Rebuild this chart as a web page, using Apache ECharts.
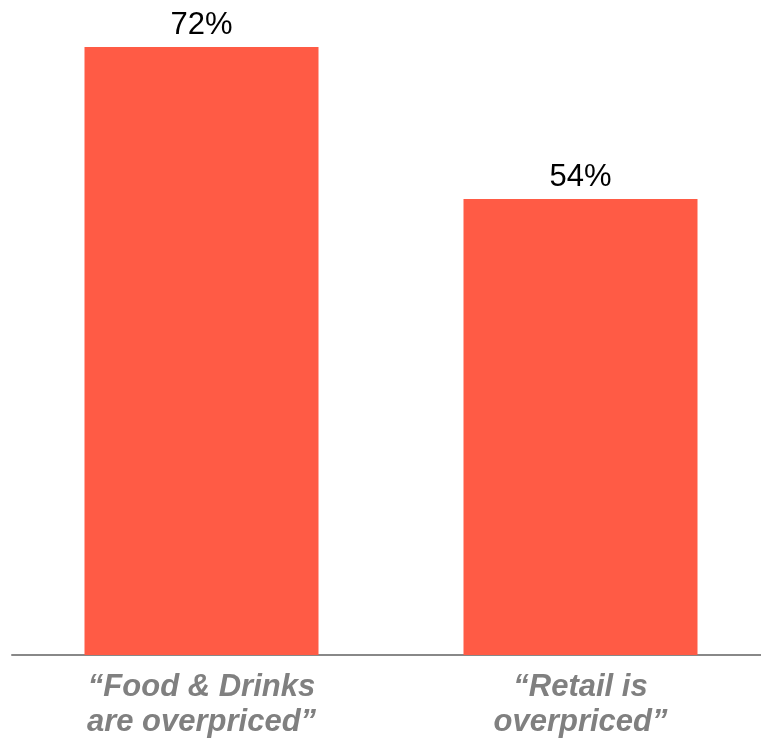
<!DOCTYPE html>
<html>
<head>
<meta charset="utf-8">
<script src="https://cdn.jsdelivr.net/npm/echarts@6/dist/echarts.min.js"></script>
<style>html,body{margin:0;padding:0;background:#fff;overflow:hidden;width:761px;height:743px}#c{width:780px;height:743px}</style>
</head>
<body>
<div id="c"></div>
<script>
const categories = ['\u201cFood & Drinks\nare overpriced\u201d', '\u201cRetail is\noverpriced\u201d'];
const values = [72, 54];

const chart = echarts.init(document.getElementById('c'), null, {renderer: 'canvas'});
chart.setOption({
  animation: false,
  grid: {left: 12, top: 47, width: 758, bottom: 88, containLabel: false},
  xAxis: {
    type: 'category',
    data: categories,
    axisLine: {show: true, lineStyle: {color: '#888888', width: 2}},
    axisTick: {show: false},
    axisLabel: {
      interval: 0,
      color: '#808080',
      fontFamily: 'Liberation Sans, Arial, sans-serif',
      fontSize: 31,
      fontWeight: 'bold',
      fontStyle: 'italic',
      lineHeight: 35,
      margin: 15
    }
  },
  yAxis: {
    type: 'value',
    min: 0,
    max: 72,
    show: false,
    splitLine: {show: false}
  },
  series: [{
    type: 'bar',
    data: values,
    barWidth: 234,
    itemStyle: {color: '#FF5B45'},
    label: {
      show: true,
      position: 'top',
      distance: 6,
      formatter: '{c}%',
      color: '#000000',
      fontFamily: 'Liberation Sans, Arial, sans-serif',
      fontSize: 31
    }
  }]
});
</script>
</body>
</html>
